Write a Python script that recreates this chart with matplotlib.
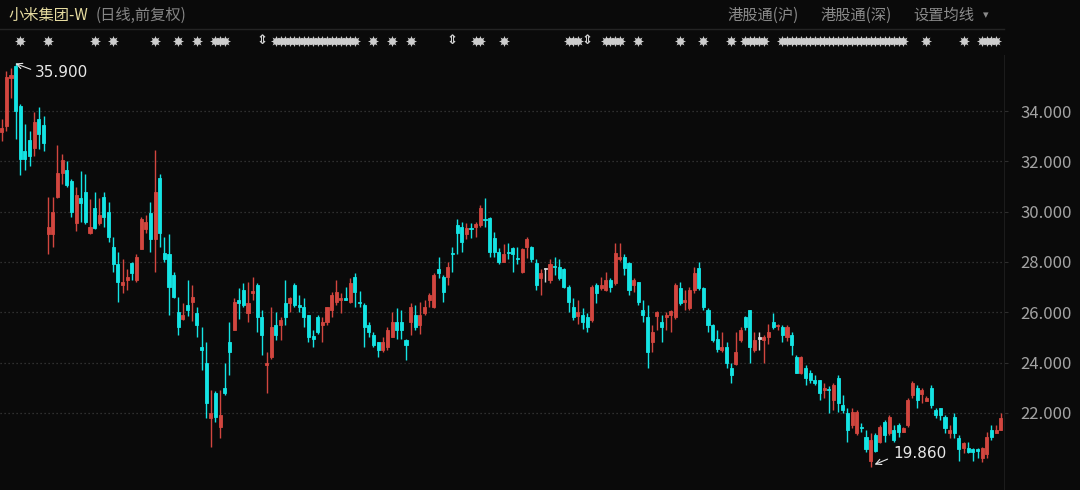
import matplotlib
matplotlib.use("Agg")
import matplotlib.pyplot as plt
import matplotlib.transforms as mtransforms

plt.rcParams['font.family'] = ['Noto Sans CJK SC', 'DejaVu Sans']

# OHLC diario (216 pregoes)
opens = [
    33.16, 33.40, 35.30, 35.80, 34.20, 32.40, 32.85, 32.55, 33.70, 33.45,
    29.10, 29.10, 30.60, 31.55, 31.65, 31.20, 29.55, 30.55, 30.80, 29.15,
    30.15, 29.55, 30.60, 30.00, 28.60, 27.90, 27.10, 27.30, 27.95, 27.30,
    28.50, 29.30, 29.95, 28.90, 31.35, 28.35, 28.30, 27.50, 26.00, 25.75,
    26.30, 26.40, 25.95, 24.60, 24.00, 21.80, 22.80, 21.45, 23.00, 24.80,
    25.30, 26.50, 26.90, 25.95, 26.75, 27.10, 25.80, 23.90, 24.20, 25.50,
    25.50, 26.35, 26.35, 27.10, 26.30, 26.20, 25.90, 25.05, 25.80, 25.50,
    25.60, 26.10, 26.40, 26.50, 26.55, 26.40, 27.40, 26.40, 26.30, 25.50,
    25.10, 24.80, 24.50, 24.60, 25.00, 25.60, 25.60, 24.90, 25.60, 25.90,
    25.50, 25.95, 26.50, 26.20, 27.70, 27.40, 27.40, 28.35, 29.45, 29.40,
    29.10, 29.35, 29.40, 29.45, 29.70, 29.75, 28.95, 28.40, 28.00, 28.40,
    28.55, 28.15, 27.60, 28.60, 28.60, 27.95, 27.35, 27.70, 27.30, 27.85,
    27.80, 27.70, 27.00, 26.20, 25.85, 25.90, 25.80, 25.70, 27.10, 26.95,
    26.90, 27.30, 27.15, 28.10, 28.20, 27.95, 27.10, 27.20, 26.10, 25.80,
    24.80, 25.85, 25.60, 25.80, 25.90, 25.80, 26.95, 26.40, 26.15, 26.90,
    27.75, 26.95, 26.10, 25.50, 24.95, 24.50, 24.60, 23.80, 23.95, 24.90,
    25.80, 26.10, 24.50, 24.95, 24.90, 25.00, 25.60, 25.45, 25.40, 25.00,
    25.10, 24.20, 23.60, 23.80, 23.60, 23.30, 23.30, 22.90, 22.95, 22.50,
    23.40, 22.30, 22.00, 21.50, 21.20, 21.45, 21.05, 20.10, 21.10, 20.85,
    21.65, 21.20, 21.30, 21.50, 21.25, 21.50, 22.70, 23.00, 22.75, 22.45,
    23.00, 22.10, 22.20, 21.85, 21.20, 21.85, 21.00, 20.60, 20.60, 20.55,
    20.55, 20.20, 20.35, 21.30, 21.20, 21.30,
]
highs = [
    33.70, 35.60, 35.70, 35.90, 34.30, 33.50, 33.20, 33.95, 34.15, 33.80,
    30.60, 30.60, 32.65, 32.30, 32.00, 31.30, 31.00, 31.60, 31.50, 30.50,
    30.80, 30.55, 30.80, 30.40, 29.00, 28.40, 28.10, 27.70, 28.00, 28.30,
    29.80, 29.85, 30.40, 32.45, 31.50, 29.00, 29.10, 27.60, 26.60, 26.35,
    27.30, 27.10, 26.20, 25.40, 24.80, 22.90, 22.85, 22.90, 24.00, 25.60,
    26.55, 26.95, 27.15, 27.20, 27.40, 27.15, 26.10, 24.40, 26.20, 26.00,
    25.80, 27.30, 26.60, 27.15, 26.70, 26.55, 25.90, 25.30, 25.90, 25.80,
    26.20, 26.80, 27.30, 26.75, 27.00, 27.35, 27.55, 26.85, 26.35, 25.60,
    25.20, 24.80, 25.00, 25.40, 26.00, 26.15, 26.10, 24.95, 26.35, 26.30,
    26.40, 26.50, 26.75, 27.55, 28.20, 27.50, 28.00, 28.60, 29.70, 29.60,
    29.55, 29.55, 29.60, 30.25, 30.55, 29.80, 29.20, 28.55, 28.70, 28.75,
    28.60, 28.60, 28.55, 29.00, 28.65, 28.10, 27.70, 27.75, 28.10, 28.20,
    28.10, 27.75, 27.10, 26.55, 26.50, 26.15, 25.95, 27.10, 27.15, 27.40,
    27.60, 27.35, 28.75, 28.75, 28.30, 28.00, 27.35, 27.20, 26.50, 26.30,
    25.50, 26.05, 25.90, 26.00, 26.10, 27.15, 27.20, 26.90, 27.00, 27.80,
    28.00, 27.00, 26.15, 25.55, 25.30, 25.20, 24.80, 24.00, 25.20, 25.40,
    25.85, 26.10, 25.20, 25.20, 25.10, 25.55, 25.95, 25.55, 25.50, 25.50,
    25.20, 24.30, 24.25, 23.90, 23.70, 23.50, 23.30, 23.20, 23.05, 23.20,
    23.50, 22.70, 22.20, 22.20, 22.10, 21.60, 21.30, 21.20, 21.20, 21.50,
    21.70, 21.90, 21.50, 21.60, 21.45, 22.60, 23.25, 23.10, 23.00, 22.65,
    23.10, 22.20, 22.20, 21.90, 21.50, 22.00, 21.10, 20.85, 20.85, 20.60,
    20.60, 20.65, 21.25, 21.50, 21.50, 22.00,
]
lows = [
    32.80, 33.20, 34.50, 32.90, 31.45, 31.65, 31.80, 32.20, 32.50, 32.40,
    28.30, 28.60, 30.55, 31.10, 31.00, 29.80, 29.25, 29.60, 29.50, 29.10,
    29.30, 29.45, 29.40, 28.80, 27.60, 26.40, 26.75, 26.90, 27.30, 27.20,
    28.50, 29.15, 28.40, 27.60, 28.60, 28.00, 25.90, 26.55, 25.10, 25.70,
    25.85, 25.65, 25.00, 23.70, 21.80, 20.65, 21.65, 21.00, 22.70, 23.50,
    25.30, 25.75, 26.20, 25.60, 26.50, 25.20, 24.30, 22.80, 24.15, 24.90,
    24.90, 25.50, 26.00, 26.20, 26.00, 25.40, 24.80, 24.60, 25.15, 24.80,
    25.50, 25.80, 26.30, 25.95, 26.50, 26.35, 26.20, 26.20, 24.60, 25.00,
    24.60, 24.20, 24.40, 24.50, 25.00, 24.95, 24.95, 24.10, 25.10, 25.30,
    25.15, 25.90, 26.20, 26.15, 27.35, 26.40, 27.10, 27.60, 28.30, 28.40,
    28.90, 28.95, 29.00, 29.40, 29.40, 28.20, 28.20, 27.90, 28.00, 28.10,
    27.60, 27.90, 27.55, 28.15, 28.00, 26.90, 26.70, 27.20, 27.15, 27.50,
    27.30, 26.95, 26.00, 25.70, 25.55, 25.35, 25.20, 25.60, 26.35, 26.90,
    26.85, 26.80, 27.10, 28.05, 27.50, 26.70, 26.80, 26.30, 25.60, 23.80,
    24.40, 25.30, 24.80, 25.30, 25.20, 25.75, 26.30, 26.10, 26.10, 26.75,
    26.90, 26.10, 25.20, 24.80, 24.40, 24.40, 23.80, 23.20, 23.90, 24.80,
    25.30, 24.00, 24.40, 24.50, 24.00, 24.75, 25.35, 25.30, 24.80, 24.85,
    24.30, 23.60, 23.55, 23.10, 23.20, 23.10, 22.50, 22.60, 22.00, 22.10,
    22.05, 22.00, 20.85, 21.40, 21.10, 21.25, 20.45, 19.86, 20.45, 20.80,
    20.85, 21.10, 20.85, 21.05, 21.25, 21.45, 22.60, 22.20, 22.40, 22.45,
    22.20, 21.80, 21.70, 21.20, 21.00, 21.00, 20.10, 20.40, 20.40, 20.10,
    20.20, 20.05, 20.20, 20.90, 21.20, 21.30,
]
closes = [
    33.32, 35.35, 35.45, 34.00, 32.10, 32.10, 32.20, 33.55, 33.10, 32.75,
    29.40, 30.00, 31.55, 32.05, 31.05, 30.00, 30.65, 30.35, 29.60, 29.40,
    29.35, 29.85, 29.80, 29.00, 27.90, 27.20, 27.20, 27.40, 27.55, 28.20,
    29.70, 29.60, 28.90, 30.80, 29.15, 28.10, 27.00, 26.60, 25.40, 25.90,
    26.10, 26.60, 25.50, 24.50, 22.40, 22.00, 21.85, 21.90, 22.80, 24.40,
    26.40, 26.35, 26.30, 26.35, 26.85, 25.80, 25.10, 24.00, 25.40, 25.10,
    25.70, 25.80, 26.55, 26.30, 26.20, 25.80, 25.00, 24.95, 25.20, 25.60,
    26.20, 26.70, 26.80, 26.55, 26.50, 27.15, 26.80, 26.35, 25.40, 25.20,
    24.70, 24.50, 24.80, 25.30, 25.60, 25.30, 25.30, 24.70, 26.20, 25.40,
    25.90, 26.20, 26.70, 27.50, 27.55, 26.80, 27.80, 28.30, 29.15, 28.80,
    29.35, 29.30, 29.50, 30.15, 29.65, 28.40, 28.40, 28.00, 28.30, 28.35,
    28.30, 28.10, 28.50, 28.90, 28.10, 27.10, 27.55, 27.70, 27.90, 27.80,
    27.35, 27.00, 26.40, 25.80, 26.00, 25.60, 25.40, 27.00, 26.75, 27.10,
    27.30, 27.00, 28.35, 28.20, 27.75, 26.90, 27.30, 26.40, 25.90, 24.40,
    25.20, 26.00, 25.40, 25.90, 26.05, 27.10, 26.35, 26.50, 26.90, 27.55,
    26.95, 26.20, 25.50, 24.90, 24.55, 24.60, 24.00, 23.50, 24.40, 25.30,
    25.40, 24.60, 24.90, 24.95, 25.00, 25.20, 25.40, 25.50, 25.10, 25.40,
    24.70, 23.60, 24.20, 23.40, 23.30, 23.20, 22.80, 23.00, 22.90, 23.10,
    22.40, 22.10, 21.30, 22.05, 22.05, 21.40, 20.55, 20.90, 20.50, 21.45,
    21.10, 21.85, 20.90, 21.25, 21.40, 22.50, 23.20, 22.50, 22.90, 22.60,
    22.30, 21.90, 21.90, 21.40, 21.30, 21.20, 20.55, 20.80, 20.45, 20.45,
    20.50, 20.60, 21.05, 21.05, 21.30, 21.80,
]

# marcadores de eventos na faixa de cima (indice do pregao)
star_idx = [4, 10, 20, 24, 33, 38, 42, 46, 47, 48,
            59, 60, 61, 62, 63, 64, 65, 66, 67, 68, 69, 70, 71, 72, 73, 74, 75, 76,
            80, 84, 88, 102, 103, 108, 122, 123, 124, 130, 131, 132, 133, 137,
            146, 151, 157, 160, 161, 162, 163, 164,
            168, 169, 170, 171, 172, 173, 174, 175, 176, 177, 178, 179, 180, 181,
            182, 183, 184, 185, 186, 187, 188, 189, 190, 191, 192, 193, 194,
            199, 207, 211, 212, 213, 214]
arrow_idx = [56, 97, 126]

y_ticks = [22, 24, 26, 28, 30, 32, 34]
max_label = '35.900'
min_label = '19.860'

BG = '#0a0a0a'
RED = '#d2463f'
CYAN = '#14e4e4'
STAR = '#cdcdcd'

W, H = 1080, 490
fig = plt.figure(figsize=(W / 100, H / 100), dpi=100, facecolor=BG)

ax = fig.add_axes([0, 0, 1004 / W, 435 / H], facecolor=BG)
ax.set_xlim(-0.37, 215.7)
ax.set_ylim(18.93, 36.23)

n = len(closes)
for i in range(n):
    o, h, l, c = opens[i], highs[i], lows[i], closes[i]
    if c > o:
        cor = RED
    elif c < o:
        cor = CYAN
    else:
        cor = '#d8d8d8'
    ax.vlines(i, l, h, color=cor, linewidth=1.0, zorder=3)
    base = min(o, c)
    alt = max(abs(c - o), 0.05)
    ax.bar(i, alt, bottom=base, width=0.66, color=cor, edgecolor=cor,
           linewidth=0.6, zorder=4)

# grade pontilhada e eixo da direita
ax.set_yticks(y_ticks)
ax.set_yticklabels(['%.3f' % v for v in y_ticks])
ax.yaxis.tick_right()
ax.tick_params(axis='y', colors='#2e2e2e', labelcolor='#a3a3a3', length=3,
               labelsize=12, pad=9)
ax.set_xticks([])
ax.grid(axis='y', color='#3c3c3c', linestyle=(0, (1, 2.2)), linewidth=0.9)
for s in ['top', 'left', 'bottom']:
    ax.spines[s].set_visible(False)
ax.spines['right'].set_color('#1c1c1c')
ax.spines['right'].set_linewidth(0.8)

# maxima e minima
ax.annotate('', xy=(2.4, 35.93), xytext=(6.8, 35.62),
            arrowprops=dict(arrowstyle='->', color='#e8e8e8', lw=0.8))
ax.text(7.2, 35.52, max_label, color='#e8e8e8', fontsize=11,
        family='DejaVu Sans', va='center', ha='left')
ax.annotate('', xy=(187.3, 19.9), xytext=(191.2, 20.2),
            arrowprops=dict(arrowstyle='->', color='#e8e8e8', lw=0.8))
ax.text(191.8, 20.4, min_label, color='#e8e8e8', fontsize=11,
        family='DejaVu Sans', va='center', ha='left')

# faixa de eventos (x em dados, y em figura)
tr = mtransforms.blended_transform_factory(ax.transData, fig.transFigure)
yy = [1 - 41 / H] * len(star_idx)
ax.scatter(star_idx, yy, marker=(8, 1, 0), s=64, color=STAR, linewidths=0,
           transform=tr, clip_on=False, zorder=5)
ax.scatter(star_idx, yy, marker='o', s=22, color=STAR, linewidths=0,
           transform=tr, clip_on=False, zorder=5)
for i in arrow_idx:
    ax.text(i, 1 - 41 / H, '⇕', transform=tr, color=STAR, fontsize=9.5,
            fontweight='bold', ha='center', va='center', family='DejaVu Sans',
            clip_on=False)

# cabecalho
fig.add_artist(plt.Line2D([0, 1004 / W], [1 - 29 / H, 1 - 29 / H],
                          color='#242424', linewidth=1))
fig.text(8 / W, 1 - 15 / H, '小米集团-W', color='#e6dca0', fontsize=11,
         va='center', ha='left')
fig.text(96 / W, 1 - 15 / H, '(日线,前复权)', color='#858585', fontsize=11,
         va='center', ha='left')
fig.text(727 / W, 1 - 15 / H, '港股通(沪)', color='#8a8a8a', fontsize=11,
         va='center', ha='left')
fig.text(820 / W, 1 - 15 / H, '港股通(深)', color='#8a8a8a', fontsize=11,
         va='center', ha='left')
fig.text(913 / W, 1 - 15 / H, '设置均线', color='#8a8a8a', fontsize=11,
         va='center', ha='left')
fig.text(983 / W, 1 - 15 / H, '▾', color='#8a8a8a', fontsize=8,
         va='center', ha='left', family='DejaVu Sans')

fig.savefig('out.png', dpi=100, facecolor=BG)
